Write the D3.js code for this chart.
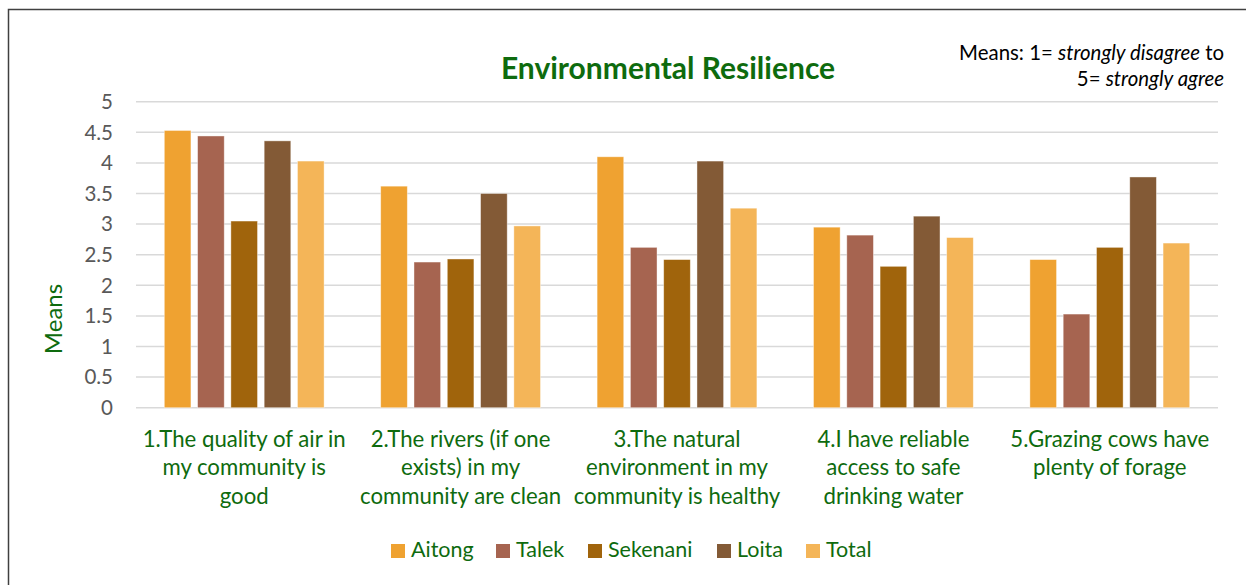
<!DOCTYPE html>
<html>
<head>
<meta charset="utf-8">
<script src="https://cdn.jsdelivr.net/npm/d3@7"></script>
<style>
  body { margin: 0; background: #fff; }
  svg { display: block; font-family: Lato, "Open Sans", sans-serif; }
</style>
</head>
<body>
<script>
// chart values
var categories = [
  ["1.The quality of air in", "my community is", "good"],
  ["2.The rivers (if one", "exists) in my", "community are clean"],
  ["3.The natural", "environment in my", "community is healthy"],
  ["4.I have reliable", "access to safe", "drinking water"],
  ["5.Grazing cows have", "plenty of forage"]
];
var series = ["Aitong", "Talek", "Sekenani", "Loita", "Total"];
var colors = ["#EFA231", "#A66450", "#A0640C", "#835A36", "#F4B558"];
var aitong   = [4.53, 3.62, 4.10, 2.95, 2.42];
var talek    = [4.44, 2.38, 2.62, 2.82, 1.53];
var sekenani = [3.05, 2.43, 2.42, 2.31, 2.62];
var loita    = [4.36, 3.50, 4.03, 3.13, 3.77];
var total    = [4.03, 2.97, 3.26, 2.78, 2.69];
var yTicks = [0, 0.5, 1, 1.5, 2, 2.5, 3, 3.5, 4, 4.5, 5];

var values = [aitong, talek, sekenani, loita, total];

var width = 1246,
    height = 585,
    green = "#0E6B0E";

var svg = d3.select("body").append("svg")
    .attr("width", width)
    .attr("height", height);

// outer frame (left + top visible)
svg.append("path")
    .attr("d", "M8.5," + height + "V9.5H" + width)
    .attr("fill", "none")
    .attr("stroke", "#404040")
    .attr("stroke-width", 1.5);

var x0 = d3.scaleBand()
    .domain(d3.range(categories.length))
    .range([136, 1218]);

var x1 = d3.scaleBand()
    .domain(series)
    .range([28.3, x0.bandwidth() - 28.3])
    .paddingInner(0.2);

var y = d3.scaleLinear()
    .domain([0, 5])
    .range([407.7, 101.7]);

// grid lines
svg.append("g")
    .selectAll("line")
    .data(yTicks)
    .join("line")
    .attr("x1", 136)
    .attr("x2", 1218)
    .attr("y1", d => y(d))
    .attr("y2", d => y(d))
    .attr("stroke", "#d9d9d9")
    .attr("stroke-width", 1.5);

// y tick labels
svg.append("g")
    .selectAll("text")
    .data(yTicks)
    .join("text")
    .attr("x", 113)
    .attr("y", d => y(d))
    .attr("dy", "0.36em")
    .attr("text-anchor", "end")
    .attr("fill", "#595959")
    .style("font-size", "20.5px")
    .text(d => d);

// bars
var groups = svg.append("g")
    .selectAll("g")
    .data(categories)
    .join("g")
    .attr("transform", (d, i) => "translate(" + x0(i) + ",0)");

groups.selectAll("rect")
    .data((d, i) => series.map((s, j) => ({ s: s, j: j, v: values[j][i] })))
    .join("rect")
    .attr("x", d => x1(d.s))
    .attr("width", x1.bandwidth())
    .attr("y", d => y(d.v))
    .attr("height", d => y(0) - y(d.v))
    .attr("fill", d => colors[d.j])
    .attr("stroke", "#fff")
    .attr("stroke-opacity", 0.5)
    .attr("stroke-width", 0.8);

// category labels
groups.append("text")
    .attr("x", x0.bandwidth() / 2)
    .attr("text-anchor", "middle")
    .attr("fill", green)
    .style("font-size", "22.2px")
    .selectAll("tspan")
    .data(d => d)
    .join("tspan")
    .attr("x", x0.bandwidth() / 2)
    .attr("y", (d, i) => 446.5 + i * 28.7)
    .text(d => d);

// title
svg.append("text")
    .attr("x", 668)
    .attr("y", 78.5)
    .attr("text-anchor", "middle")
    .attr("fill", green)
    .style("font-size", "30px")
    .style("font-weight", "bold")
    .text("Environmental Resilience");

// note, top right
var note = svg.append("text")
    .attr("text-anchor", "end")
    .attr("fill", "#000")
    .style("font-size", "20.4px");
var l1 = note.append("tspan").attr("x", 1224).attr("y", 60);
l1.append("tspan").text("Means: 1= ");
l1.append("tspan").style("font-style", "italic").text("strongly disagree");
l1.append("tspan").text(" to");
var l2 = note.append("tspan").attr("x", 1224).attr("y", 86);
l2.append("tspan").text("5= ");
l2.append("tspan").style("font-style", "italic").text("strongly agree");

// y axis title
svg.append("text")
    .attr("transform", "translate(62,319) rotate(-90)")
    .attr("text-anchor", "middle")
    .attr("fill", green)
    .style("font-size", "24px")
    .text("Means");

// legend
var legendX = [391, 496, 588, 717, 806];
var legend = svg.append("g")
    .selectAll("g")
    .data(series)
    .join("g")
    .attr("transform", (d, i) => "translate(" + legendX[i] + ",544)");

legend.append("rect")
    .attr("width", 14)
    .attr("height", 14)
    .attr("fill", (d, i) => colors[i]);

legend.append("text")
    .attr("x", 20)
    .attr("y", 13)
    .attr("fill", green)
    .style("font-size", "21.5px")
    .text(d => d);
</script>
</body>
</html>
